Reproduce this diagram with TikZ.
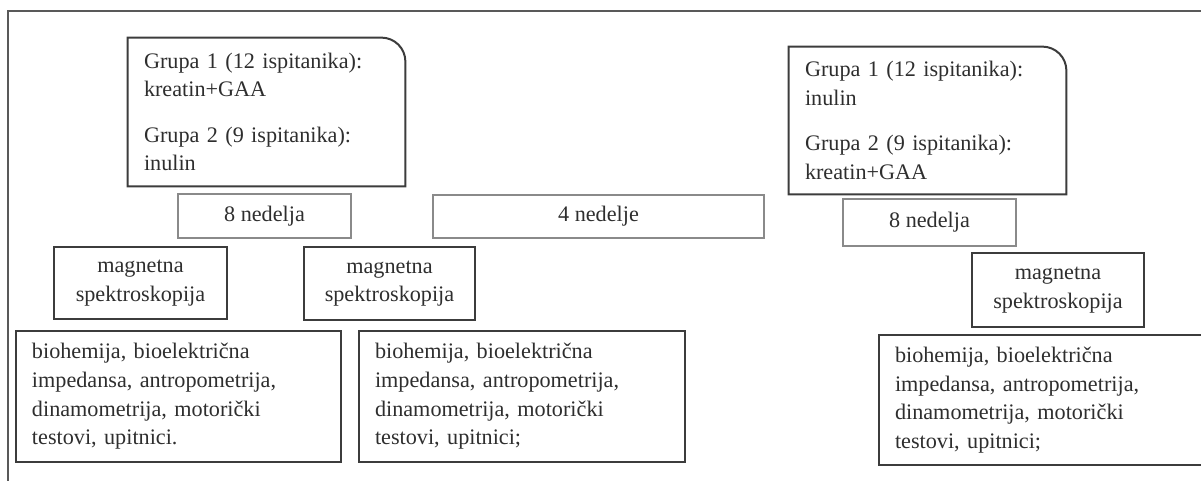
\documentclass[tikz,border=0pt]{standalone}
\usepackage{fontspec}
\setmainfont{Liberation Serif}
\definecolor{ink}{HTML}{2E2E2E}
\definecolor{edge}{HTML}{3C3C3C}
\definecolor{softedge}{HTML}{8A8A8A}
\tikzset{
  every node/.style={font=\fontsize{11.1}{14.3}\selectfont, text=ink},
  grupabox/.style={inner xsep=8pt, inner ysep=0pt, text width=122.5pt, align=left},
  periodbox/.style={draw=softedge, line width=0.8pt, inner sep=0pt, align=center},
  mrsbox/.style={draw=edge, line width=1pt, inner sep=0pt, align=center},
  testbox/.style={draw=edge, line width=1pt, inner xsep=8pt, inner ysep=0pt, align=left},
  outline/.style={draw=edge, line width=1pt},
}

\begin{document}
\begin{tikzpicture}[x=0.5pt, y=-0.5pt]
    \useasboundingbox (0,0) rectangle (1201,481);

    % Frame (top and left edges only)
    \draw[edge!85, line width=1pt] (8,481) -- (8,11) -- (1201,11);

    % ==========================================
    % GROUPS (first and second phase)
    % ==========================================
    \node[grupabox, minimum width=138.5pt, minimum height=74pt] (GrupaL) at (266.5,112)
        {Grupa 1 (12 ispitanika):\\ kreatin+GAA\\[8.5pt] Grupa 2 (9 ispitanika):\\ inulin};
    \draw[outline] (GrupaL.south west) -- (GrupaL.north west)
        [rounded corners=12pt] -- (GrupaL.north east) [sharp corners] -- (GrupaL.south east) -- cycle;

    \node[grupabox, minimum width=138.5pt, minimum height=73.5pt] (GrupaR) at (927.5,120.5)
        {Grupa 1 (12 ispitanika):\\ inulin\\[8.5pt] Grupa 2 (9 ispitanika):\\ kreatin+GAA};
    \draw[outline] (GrupaR.south west) -- (GrupaR.north west)
        [rounded corners=12pt] -- (GrupaR.north east) [sharp corners] -- (GrupaR.south east) -- cycle;

    % ==========================================
    % PERIODS
    % ==========================================
    \node[periodbox, minimum width=86.5pt, minimum height=22pt] (NedeljaL) at (264.5,216) {8 nedelja};
    \node[periodbox, minimum width=165.5pt, minimum height=21.5pt] (Pauza) at (598.5,216.5) {4 nedelje};
    \node[periodbox, minimum width=86.5pt, minimum height=23.5pt] (NedeljaR) at (929.5,222.5) {8 nedelja};

    % ==========================================
    % MEASUREMENTS
    % ==========================================
    \node[mrsbox, minimum width=86.5pt, minimum height=36pt] (MagnetL) at (140.5,283) {magnetna\\ spektroskopija};
    \node[mrsbox, minimum width=85.5pt, minimum height=36.5pt] (MagnetM) at (389.5,283.5) {magnetna\\ spektroskopija};
    \node[mrsbox, minimum width=86pt, minimum height=37pt] (MagnetR) at (1058,290) {magnetna\\ spektroskopija};

    \node[testbox, text width=146.5pt, minimum height=65.5pt] (TestL) at (178.5,396.5)
        {biohemija, bioelektrična\\ impedansa, antropometrija,\\ dinamometrija, motorički\\ testovi, upitnici.};
    \node[testbox, text width=147pt, minimum height=65.5pt] (TestM) at (522,396.5)
        {biohemija, bioelektrična\\ impedansa, antropometrija,\\ dinamometrija, motorički\\ testovi, upitnici;};
    % right box runs past the edge of the page
    \node[testbox, text width=150.5pt, minimum height=65pt] (TestR) at (1045.5,400)
        {biohemija, bioelektrična\\ impedansa, antropometrija,\\ dinamometrija, motorički\\ testovi, upitnici;};
\end{tikzpicture}
\end{document}
